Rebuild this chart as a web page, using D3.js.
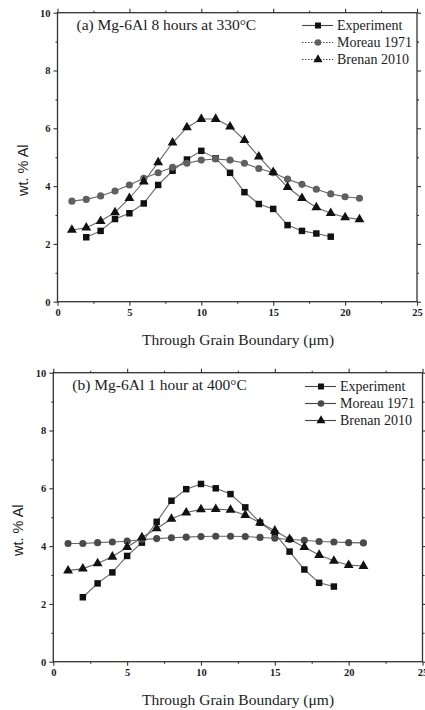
<!DOCTYPE html>
<html>
<head>
<meta charset="utf-8">
<script src="https://cdn.jsdelivr.net/npm/d3@7"></script>
<style>
  body { margin: 0; background: #fff; }
  svg text { fill: #1c1c1c; }
</style>
</head>
<body>
<svg id="chart" width="425" height="710"></svg>
<script>
// x positions (µm)
const xExp = [2, 3, 4, 5, 6, 7, 8, 9, 10, 11, 12, 13, 14, 15, 16, 17, 18, 19];
const xModel = [1, 2, 3, 4, 5, 6, 7, 8, 9, 10, 11, 12, 13, 14, 15, 16, 17, 18, 19, 20, 21];

// panel (a) : 8 hours at 330°C
const expA = [2.23, 2.45, 2.86, 3.06, 3.40, 4.04, 4.53, 4.92, 5.22, 4.96, 4.46, 3.79, 3.38, 3.21, 2.65, 2.45, 2.36, 2.25];
const moreauA = [3.48, 3.54, 3.66, 3.83, 4.04, 4.27, 4.46, 4.65, 4.79, 4.90, 4.94, 4.90, 4.79, 4.61, 4.46, 4.24, 4.06, 3.89, 3.73, 3.63, 3.58];
const brenanA = [2.48, 2.56, 2.79, 3.09, 3.58, 4.15, 4.82, 5.50, 6.03, 6.32, 6.32, 6.06, 5.59, 5.02, 4.48, 3.96, 3.58, 3.26, 3.06, 2.92, 2.85];

// panel (b) : 1 hour at 400°C
const expB = [2.23, 2.71, 3.09, 3.66, 4.12, 4.84, 5.57, 5.97, 6.15, 6.00, 5.80, 5.34, 4.81, 4.44, 3.81, 3.19, 2.73, 2.60];
const moreauB = [4.09, 4.09, 4.12, 4.14, 4.17, 4.23, 4.26, 4.29, 4.31, 4.33, 4.34, 4.34, 4.33, 4.30, 4.27, 4.23, 4.20, 4.16, 4.14, 4.12, 4.11];
const brenanB = [3.15, 3.22, 3.40, 3.63, 3.96, 4.30, 4.61, 4.94, 5.16, 5.27, 5.28, 5.25, 5.07, 4.81, 4.53, 4.24, 3.96, 3.69, 3.49, 3.34, 3.31];

const seriesNames = ["Experiment", "Moreau 1971", "Brenan 2010"];
const xMajor = [0, 5, 10, 15, 20, 25];
const xMinor = [2.5, 7.5, 12.5, 17.5, 22.5];
const yMajor = [0, 2, 4, 6, 8, 10];
const yMinor = [1, 3, 5, 7, 9];

const svg = d3.select("#chart");

function drawPanel(p) {
  const x = d3.scaleLinear().domain([0, 25]).range([p.left, p.right]);
  const y = d3.scaleLinear().domain([0, 10]).range([p.bottom, p.top]);
  const g = svg.append("g");

  // frame
  g.append("rect")
    .attr("x", p.left).attr("y", p.top)
    .attr("width", p.right - p.left).attr("height", p.bottom - p.top)
    .attr("fill", "none").attr("stroke", "#333").attr("stroke-width", 1.3);

  // ticks, all sides outward
  const axes = [
    [d3.axisBottom(x).tickValues(xMajor).tickSize(4), d3.axisBottom(x).tickValues(xMinor).tickSize(2), `translate(0,${p.bottom})`, true],
    [d3.axisTop(x).tickValues(xMajor).tickSize(4), d3.axisTop(x).tickValues(xMinor).tickSize(2), `translate(0,${p.top})`, false],
    [d3.axisLeft(y).tickValues(yMajor).tickSize(4), d3.axisLeft(y).tickValues(yMinor).tickSize(2), `translate(${p.left},0)`, true],
    [d3.axisRight(y).tickValues(yMajor).tickSize(4), d3.axisRight(y).tickValues(yMinor).tickSize(2), `translate(${p.right},0)`, false]
  ];
  axes.forEach(([maj, min, tr, labels]) => {
    g.append("g").attr("transform", tr)
      .call(maj.tickSizeOuter(0).tickFormat(labels ? d3.format("d") : ""));
    g.append("g").attr("transform", tr).call(min.tickSizeOuter(0).tickFormat(""));
  });
  g.selectAll(".domain").remove();
  g.selectAll(".tick line").attr("stroke", "#333").attr("stroke-width", 1.1);
  g.selectAll(".tick text")
    .attr("font-family", "Liberation Serif").attr("font-size", 10.5).attr("font-weight", "bold");

  // axis titles
  g.append("text")
    .attr("x", 238).attr("y", p.bottom + 43)
    .attr("text-anchor", "middle")
    .attr("font-family", "Liberation Serif").attr("font-size", 15.5)
    .text("Through Grain Boundary (\u03bcm)");
  g.append("text")
    .attr("transform", `translate(${p.left - 30},${(p.top + p.bottom) / 2 + 13}) rotate(-90)`)
    .attr("text-anchor", "middle")
    .attr("font-family", "Liberation Sans").attr("font-size", 14.5)
    .text("wt. % Al");

  // panel label
  g.append("text")
    .attr("x", p.left + 19).attr("y", p.top + 17)
    .attr("font-family", "Liberation Serif").attr("font-size", 15.5)
    .text(p.label);

  const line = d3.line().x(d => x(d[0])).y(d => y(d[1]));
  const sets = [
    { xs: xExp, ys: p.exp, shape: d3.symbolSquare, size: 42, fill: "#111" },
    { xs: xModel, ys: p.moreau, shape: d3.symbolCircle, size: 40, fill: p.circleFill },
    { xs: xModel, ys: p.brenan, shape: d3.symbolTriangle, size: 42, fill: "#111" }
  ];
  sets.forEach((s, i) => {
    const pts = s.xs.map((v, j) => [v, s.ys[j]]);
    g.append("path").attr("d", line(pts))
      .attr("fill", "none").attr("stroke", "#666").attr("stroke-width", 1.1);
    g.selectAll(null).data(pts).enter().append("path")
      .attr("transform", d => `translate(${x(d[0])},${y(d[1])})`)
      .attr("d", d3.symbol().type(s.shape).size(s.size))
      .attr("fill", s.fill);

    // legend entry
    const ly = p.legendY + i * 17;
    g.append("line")
      .attr("x1", p.legendX).attr("x2", p.legendX + 31)
      .attr("y1", ly).attr("y2", ly)
      .attr("stroke", "#444").attr("stroke-width", 1.1)
      .attr("stroke-dasharray", p.legendDash[i]);
    g.append("path")
      .attr("transform", `translate(${p.legendX + 16},${ly})`)
      .attr("d", d3.symbol().type(s.shape).size(s.size - 6))
      .attr("fill", s.fill);
    g.append("text")
      .attr("x", p.legendX + 35).attr("y", ly + 4.5)
      .attr("font-family", "Liberation Serif").attr("font-size", 14)
      .text(seriesNames[i]);
  });
}

drawPanel({
  left: 57.5, right: 417, top: 12.7, bottom: 301.7,
  label: "(a) Mg-6Al 8 hours at 330\u00b0C",
  exp: expA, moreau: moreauA, brenan: brenanA,
  circleFill: "#606060",
  legendX: 302, legendY: 25.5, legendDash: [null, "1.5,1.5", "1.5,1.5"]
});

drawPanel({
  left: 53.3, right: 422.5, top: 372.7, bottom: 661.7,
  label: "(b) Mg-6Al 1 hour at 400\u00b0C",
  exp: expB, moreau: moreauB, brenan: brenanB,
  circleFill: "#4a4a4a",
  legendX: 305, legendY: 386.5, legendDash: [null, null, null]
});
</script>
</body>
</html>
